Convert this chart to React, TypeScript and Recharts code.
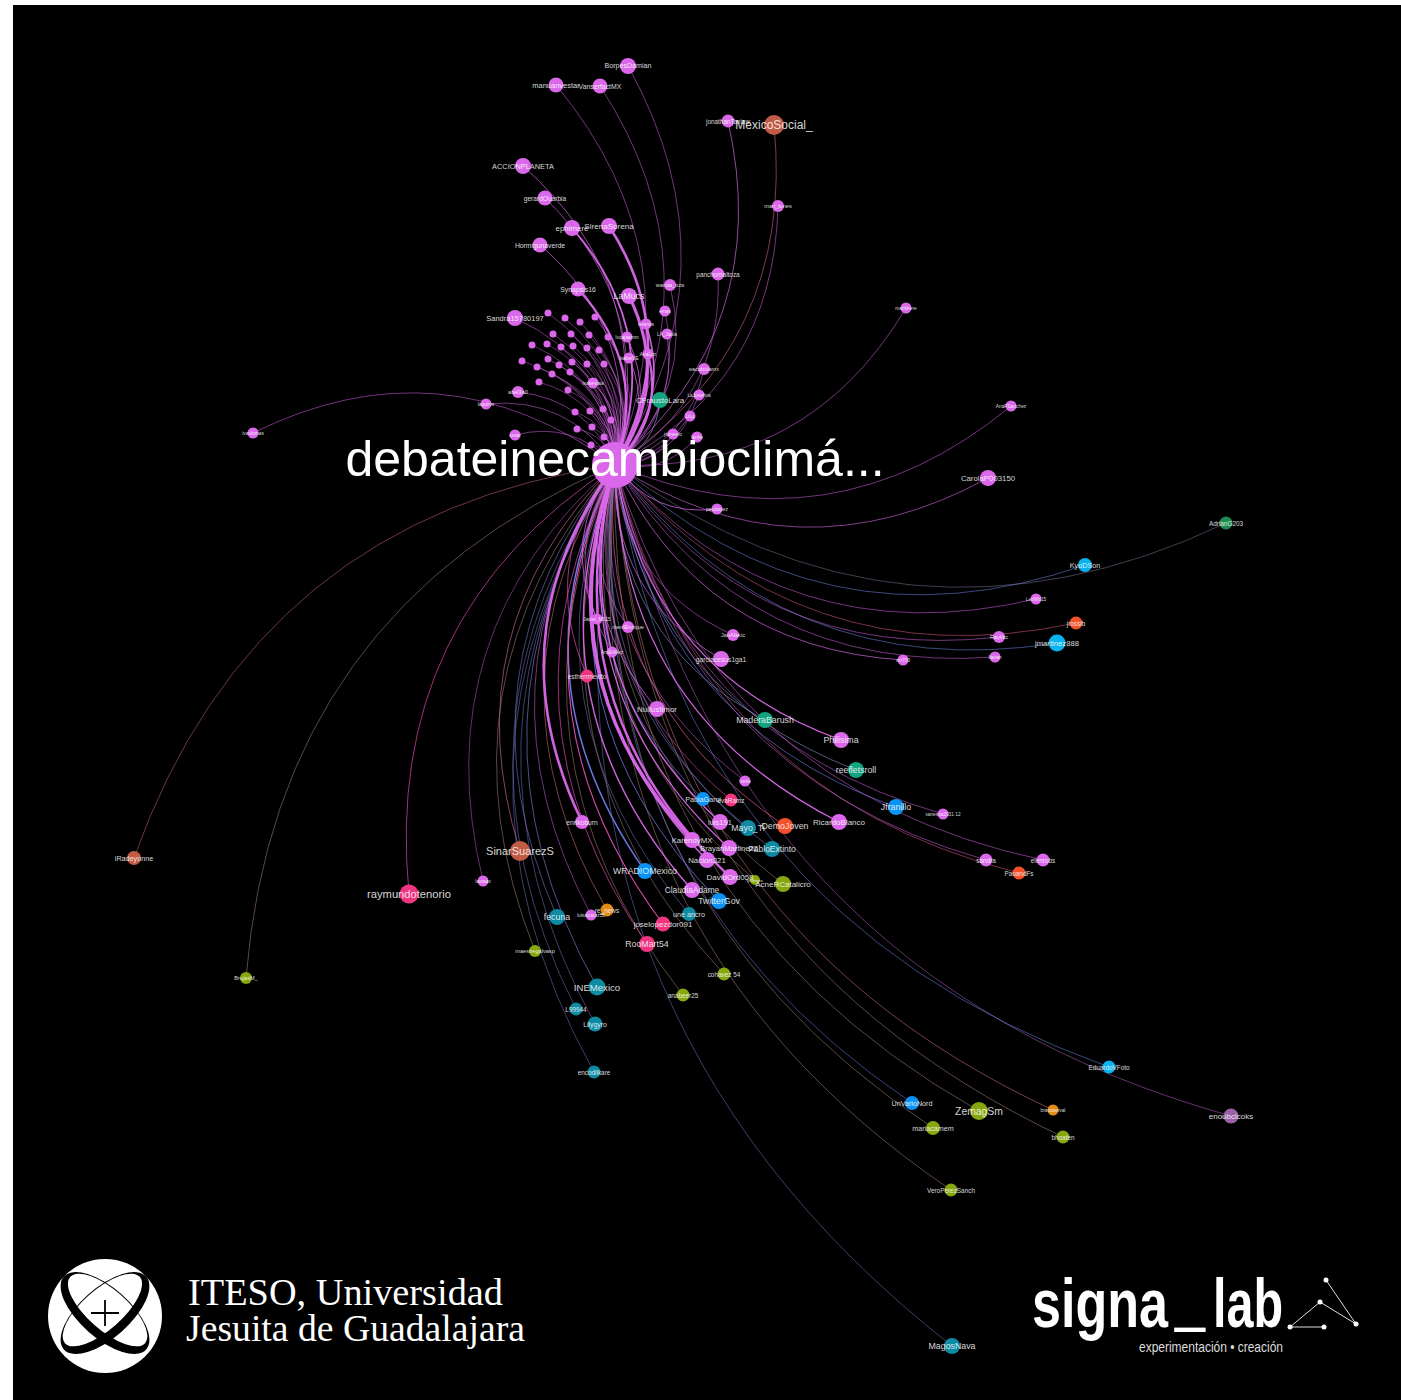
import { ComposedChart, Line, Scatter, XAxis, YAxis } from "recharts";

type Row = [string, number, number, number, number, number, number];

// name, x, y, node radius, edge bend x, edge bend y, edge width
const hub = { name: "debateinecambioclimá...", x: 615, y: 465, size: 23 };

const pinkNodes: Row[] = [
  ["BorpesDamian", 628, 66, 8, 681, 267, 0.7],
  ["manuanvestar", 556, 85, 7.5, 642, 266, 0.7],
  ["VanserfactMX", 600, 86, 7.5, 664, 273, 0.7],
  ["ACCIONPLANETA", 523, 166, 8, 614, 301, 0.9],
  ["gerardOuarbia", 545, 198, 7.5, 620, 321, 0.8],
  ["ephimere", 572, 228, 8, 629, 340, 1.8],
  ["SirenaSorena", 609, 226, 8, 648, 344, 2.6],
  ["Hormigunaverde", 540, 245, 7.5, 610, 344, 0.9],
  ["Synapsis16", 578, 289, 7.5, 623, 372, 2.2],
  ["LaMucs", 629, 296, 8, 647, 382, 3],
  ["Sandra15780197", 515, 318, 8, 587, 376, 0.7],
  ["jonathanTaxiaw", 728, 121, 6.5, 723, 310, 0.9],
  ["mari_lunes", 778, 206, 6, 735, 360, 0.7],
  ["panchomaltoza", 718, 274, 6.5, 695, 385, 0.7],
  ["wanda_tuts", 670, 285, 6, 669, 383, 0.7],
  ["emas", 665, 311, 5.5, 663, 396, 0.7],
  ["terenos", 646, 324, 5.5, 651, 399, 1.6],
  ["LA_Jaula", 667, 334, 5.5, 660, 407, 0.7],
  ["", 548, 313, 3.5, 604, 379, 0.6],
  ["", 565, 318, 3.5, 612, 384, 0.6],
  ["", 580, 322, 3.5, 619, 388, 0.6],
  ["", 595, 317, 3.5, 627, 388, 0.6],
  ["", 553, 334, 3.5, 603, 390, 0.6],
  ["", 571, 334, 3.5, 612, 393, 0.6],
  ["", 589, 335, 3.5, 621, 396, 0.6],
  ["", 608, 337, 3.5, 630, 400, 0.6],
  ["Ixqajaamm", 627, 337, 5.5, 640, 403, 1],
  ["", 532, 345, 3.5, 591, 392, 0.6],
  ["", 547, 344, 3.5, 599, 394, 0.6],
  ["", 561, 347, 3.5, 605, 398, 0.6],
  ["", 573, 346, 3.5, 611, 399, 0.6],
  ["", 587, 348, 3.5, 618, 402, 0.6],
  ["", 599, 350, 3.5, 624, 405, 0.6],
  ["IsabelVE", 629, 358, 5.5, 638, 413, 1],
  ["AnaLuz", 648, 354, 5.5, 648, 414, 2.2],
  ["", 522, 361, 3.5, 584, 399, 0.6],
  ["", 548, 359, 3.5, 597, 402, 0.6],
  ["", 559, 365, 3.5, 602, 407, 0.6],
  ["", 572, 362, 3.5, 609, 407, 0.6],
  ["", 587, 364, 3.5, 616, 410, 0.6],
  ["", 604, 364, 3.5, 624, 413, 0.6],
  ["", 537, 367, 3.5, 591, 405, 0.6],
  ["", 552, 374, 3.5, 597, 410, 0.6],
  ["", 570, 372, 3.5, 606, 412, 0.6],
  ["", 539, 382, 3.5, 590, 412, 0.6],
  ["", 568, 390, 3.5, 603, 420, 0.6],
  ["Isabeviaia", 593, 383, 5.5, 616, 421, 0.8],
  ["abel3a0", 518, 392, 6, 577, 414, 0.7],
  ["laquirvs", 486, 404, 5.5, 559, 415, 0.7],
  ["", 575, 412, 3.5, 603, 432, 0.6],
  ["", 590, 411, 3.5, 610, 434, 0.6],
  ["", 603, 409, 3.5, 617, 435, 0.6],
  ["", 611, 420, 3.5, 620, 442, 0.6],
  ["", 577, 429, 3.5, 601, 441, 0.6],
  ["", 592, 427, 3.5, 609, 442, 0.6],
  ["", 604, 437, 3.5, 613, 449, 0.6],
  ["", 591, 445, 3.5, 606, 451, 0.6],
  ["cesar", 515, 435, 5.5, 569, 435, 0.7],
  ["eacobolamx", 704, 369, 6, 674, 430, 0.7],
  ["LaJosefina", 699, 395, 5.5, 667, 442, 0.7],
  ["LiLu", 690, 416, 5.5, 660, 451, 0.7],
  ["jaimeelo", 673, 434, 5.5, 648, 458, 0.7],
  ["Ianhe", 697, 437, 5.5, 660, 463, 0.7],
  ["pacolopez", 717, 509, 5.5, 659, 502, 1],
  ["marishere", 906, 308, 5.5, 784, 430, 0.7],
  ["AnaPSanchez", 1011, 406, 5.5, 822, 495, 0.7],
  ["CarolaP003150", 988, 478, 8, 799, 527, 0.8],
  ["ivanlomas", 253, 433, 5.5, 438, 394, 0.7],
  ["LeoNhi15", 1036, 599, 5.5, 805, 595, 0.7],
  ["Raylitic", 999, 637, 6, 781, 608, 0.7],
  ["Ilanan", 995, 657, 5.5, 776, 618, 0.7],
  ["sin700", 903, 660, 5.5, 730, 605, 0.9],
  ["JanAlakic", 733, 635, 6, 648, 567, 0.7],
  ["garciacesus1ga1", 721, 659, 8, 639, 578, 0.9],
  ["Javier_M015", 597, 619, 5.5, 583, 539, 1],
  ["memEnrique", 628, 627, 6, 597, 548, 0.8],
  ["AmEnMez", 612, 652, 5.5, 585, 558, 0.8],
  ["Nullustimor", 657, 709, 8, 600, 593, 1],
  ["Philisima", 841, 740, 8, 687, 636, 1.2],
  ["Ivette", 745, 781, 5.5, 632, 642, 0.7],
  ["RicardoBlanco", 839, 822, 8, 673, 677, 1.2],
  ["vanessa2031 12", 943, 814, 5.5, 726, 688, 0.7],
  ["sandra", 986, 860, 6.5, 741, 718, 0.7],
  ["elenrobs", 1043, 860, 6.5, 770, 726, 0.7],
  ["luis191", 720, 822, 8, 614, 659, 1.4],
  ["KarendyMX", 692, 840, 8, 597, 664, 3.4],
  ["BrayanMartinezZ", 729, 848, 8, 614, 673, 1.2],
  ["Nacion321", 707, 860, 8, 601, 676, 1.4],
  ["DavidOrd058", 730, 877, 8, 610, 688, 2.4],
  ["ClaudiaAdame", 692, 890, 8, 589, 689, 1.4],
  ["enrikoburn", 582, 822, 7, 545, 638, 2.6],
  ["lauraax", 483, 881, 5.5, 486, 653, 0.6],
  ["luisalcaraz55", 591, 915, 5.5, 535, 686, 0.7],
];

const hotPinkNodes: Row[] = [
  ["estherrmexito", 587, 676, 6.5, 569, 566, 0.9],
  ["evaRamz", 731, 800, 6.5, 622, 650, 0.8],
  ["raymundotenorio", 409, 894, 9.5, 447, 648, 0.9],
  ["joselopezdor091", 663, 924, 7.5, 570, 701, 1.1],
  ["RooMart54", 647, 944, 8, 559, 709, 0.9],
];

const blueNodes: Row[] = [
  ["PaolaGarci", 703, 799, 7, 609, 645, 0.8],
  ["Jfranillo", 896, 807, 8, 704, 678, 0.8],
  ["WRADIOMexico", 645, 871, 8, 569, 672, 1.5],
  ["TwitterGov", 719, 901, 8, 601, 699, 1],
  ["UnVarioNord", 912, 1103, 7, 668, 829, 0.7],
];

const cyanNodes: Row[] = [
  ["KyoDSon", 1085, 565, 7, 835, 586, 0.7],
  ["jmartinez888", 1057, 643, 8.5, 810, 620, 0.7],
  ["EduardoVFoto", 1109, 1067, 6.5, 772, 840, 0.7],
];

const tealNodes: Row[] = [
  ["Mayo_Ti", 748, 828, 8, 627, 666, 0.8],
  ["PabloExtinto", 772, 849, 8, 636, 680, 0.8],
  ["une ancro", 689, 914, 7, 584, 700, 0.7],
  ["fecuna", 557, 917, 8, 518, 682, 0.8],
  ["INEMexico", 597, 987, 8.5, 527, 723, 0.9],
  ["L99944", 576, 1009, 6.5, 514, 731, 0.7],
  ["Lilygyro", 595, 1024, 7.5, 521, 741, 0.7],
  ["encodilkare", 594, 1072, 6.5, 513, 765, 0.7],
  ["MagosNava", 952, 1346, 8, 651, 956, 0.7],
];

const greenNodes: Row[] = [
  ["CFraustoLara", 660, 400, 8, 647, 439, 1],
  ["MaderaBarush", 765, 720, 8, 651, 615, 0.9],
  ["reefletsroll", 856, 770, 8, 690, 653, 0.9],
];

const forestNodes: Row[] = [["AdrianG203", 1226, 523, 6.5, 912, 585, 0.7]];

const brickNodes: Row[] = [
  ["MexicoSocial_", 774, 125, 10, 745, 319, 0.8],
  ["SinarSuarezS", 520, 851, 10, 509, 644, 0.9],
  ["iRadeyonne", 134, 858, 7, 315, 589, 0.7],
];

const redNodes: Row[] = [
  ["jrossib", 1076, 623, 6.5, 822, 613, 0.7],
  ["DemoJoven", 785, 826, 8, 646, 671, 0.9],
  ["PaoandFs", 1019, 873, 6.5, 756, 730, 0.7],
];

const oliveNodes: Row[] = [
  ["AcneRCatalicro", 783, 884, 8, 636, 699, 0.7],
  ["pedromx", 755, 880, 5, 623, 693, 0.7],
  ["cohavez 54", 724, 974, 6.5, 593, 736, 0.7],
  ["anabeer25", 683, 995, 6.5, 570, 740, 0.7],
  ["maestregalvasp", 535, 951, 6, 502, 696, 0.7],
  ["BrujasM_", 246, 978, 6, 353, 666, 0.7],
  ["ZemagSm", 979, 1111, 9, 700, 843, 0.7],
  ["mariacamem", 933, 1128, 7, 675, 844, 0.7],
  ["bhoaten", 1063, 1137, 6.5, 738, 868, 0.7],
  ["VeroPerezSanch", 951, 1190, 6.5, 674, 878, 0.7],
];

const orangeNodes: Row[] = [
  ["re_news", 607, 910, 6.5, 544, 686, 0.7],
  ["bravoserval", 1053, 1110, 5.5, 737, 853, 0.7],
];

const purpleNodes: Row[] = [["enoubclcoks", 1231, 1116, 7.5, 826, 883, 0.7]];

// rows, node colour, edge colour (node colour mixed with the hub's)
const communities: [Row[], string, string][] = [
  [brickNodes, "#C25B45", "#CE6298"],
  [forestNodes, "#1F8A50", "#7D799D"],
  [purpleNodes, "#9A62A6", "#BA65C8"],
  [orangeNodes, "#E28C18", "#DE7A82"],
  [oliveNodes, "#86A70D", "#B0887C"],
  [redNodes, "#F4502A", "#E75C8A"],
  [greenNodes, "#12A37F", "#7685B5"],
  [cyanNodes, "#0AB2EE", "#728DEC"],
  [tealNodes, "#0E8AA3", "#7479C7"],
  [blueNodes, "#0A93F5", "#727DF0"],
  [hotPinkNodes, "#F0347F", "#E54EB5"],
  [pinkNodes, "#DB68EB", "#DB68EB"],
];

// labels that run smaller than their node size suggests
const labelSizes: Record<string, number> = {
  BorpesDamian: 7.1,
  manuanvestar: 7.5,
  VanserfactMX: 6.9,
  ACCIONPLANETA: 7.4,
  gerardOuarbia: 6.6,
  ephimere: 7.9,
  SirenaSorena: 8.1,
  Hormigunaverde: 6.8,
  Synapsis16: 6.9,
  Sandra15780197: 7.5,
  CFraustoLara: 7.9,
  CarolaP003150: 7.8,
  jmartinez888: 7.7,
  RicardoBlanco: 8,
  Nullustimor: 8,
  garciacesus1ga1: 6.7,
  KarendyMX: 7.8,
  BrayanMartinezZ: 7.6,
  Nacion321: 7.9,
  DavidOrd058: 8,
  ClaudiaAdame: 8.3,
  luis191: 7.5,
  PabloExtinto: 8.5,
  enrikoburn: 6.7,
  SinarSuarezS: 11,
  AcneRCatalicro: 8,
  Lilygyro: 6.9,
};

const toPoint = (row: Row) => ({ name: row[0], x: row[1], y: row[2], size: row[3] });

// quadratic edge that passes through its middle point
const edgeCurve = (ctx: any) => {
  let pts: number[][] = [];
  return {
    areaStart() {},
    areaEnd() {},
    lineStart() {
      pts = [];
    },
    point(x: number, y: number) {
      pts.push([x, y]);
    },
    lineEnd() {
      const [a, m, c] = pts;
      ctx.moveTo(a[0], a[1]);
      ctx.quadraticCurveTo(2 * m[0] - (a[0] + c[0]) / 2, 2 * m[1] - (a[1] + c[1]) / 2, c[0], c[1]);
    },
  };
};

const NodeDot = (props: any) => (
  <circle cx={props.cx} cy={props.cy} r={props.payload.size} fill={props.fill} />
);

const NodeLabel = (props: any) => {
  const { name, size } = props.payload;
  const fontSize = size > 20 ? 50 : labelSizes[name] ?? 1.6 * size - 4;
  return (
    <text
      x={props.cx}
      y={size > 20 ? props.cy - 6 : props.cy}
      textAnchor="middle"
      dominantBaseline="central"
      fontSize={fontSize}
      fontFamily="'Liberation Sans', Arial, sans-serif"
      fill="#fff"
      fillOpacity={size > 20 ? 1 : 0.85}
    >
      {name}
    </text>
  );
};

export default function App() {
  const labelled = [
    ...communities.flatMap(([rows]) => rows.filter((r) => r[0]).map(toPoint)),
    hub,
  ];

  return (
    <div style={{ position: "absolute", left: 0, top: 0, width: 1401, height: 1400, background: "#fff" }}>
      <div style={{ position: "absolute", left: 13, top: 5, width: 1388, height: 1395, background: "#000" }} />
      <div style={{ position: "absolute", left: 0, top: 0 }}>
        <ComposedChart width={1401} height={1400} margin={{ top: 0, right: 0, bottom: 0, left: 0 }}>
          <XAxis dataKey="x" type="number" domain={[0, 1401]} hide />
          <YAxis dataKey="y" type="number" domain={[0, 1400]} reversed hide />
          {communities.flatMap(([rows, color, edgeColor]) =>
            rows.map((row) => (
              <Line
                key={`${color}-${row[1]}-${row[2]}`}
                data={[
                  { x: hub.x, y: hub.y },
                  { x: row[4], y: row[5] },
                  { x: row[1], y: row[2] },
                ]}
                dataKey="y"
                type={edgeCurve as any}
                stroke={edgeColor}
                strokeWidth={row[6]}
                strokeOpacity={row[6] > 1 ? 0.95 : 0.75}
                dot={false}
                activeDot={false}
                isAnimationActive={false}
              />
            ))
          )}
          {communities.map(([rows, color]) => (
            <Scatter
              key={color}
              data={rows.map(toPoint)}
              dataKey="y"
              fill={color}
              shape={NodeDot}
              isAnimationActive={false}
            />
          ))}
          <Scatter data={[hub]} dataKey="y" fill="#DB68EB" shape={NodeDot} isAnimationActive={false} />
          <Scatter data={labelled} dataKey="y" fill="#fff" shape={NodeLabel} isAnimationActive={false} />
        </ComposedChart>
      </div>

      {/* logos */}
      <svg width={1401} height={1400} style={{ position: "absolute", left: 0, top: 0, pointerEvents: "none" }}>
        <circle cx={105} cy={1316} r={57} fill="#fff" />
        {[41.5, -41.5].map((angle) => (
          <path
            key={angle}
            transform={`translate(105 1313) rotate(${angle})`}
            fill="#000"
            fillRule="evenodd"
            d="M-55 0A55 25 0 1 0 55 0A55 25 0 1 0 -55 0ZM-50 -4A50 20 0 1 0 50 -4A50 20 0 1 0 -50 -4Z"
          />
        ))}
        <path d="M105 1300V1326M91 1313H119" stroke="#000" strokeWidth={1.8} fill="none" />
        <g fontFamily="'Liberation Serif', 'Times New Roman', serif" fill="#fff">
          <text x={188} y={1305} fontSize={37} textLength={315} lengthAdjust="spacingAndGlyphs">
            ITESO, Universidad
          </text>
          <text x={186} y={1341} fontSize={37} textLength={339} lengthAdjust="spacingAndGlyphs">
            Jesuita de Guadalajara
          </text>
        </g>
        <g fontFamily="'Liberation Sans', Arial, sans-serif" fill="#fff">
          <text x={1032} y={1327} fontSize={68} fontWeight={700} textLength={136} lengthAdjust="spacingAndGlyphs">
            signa
          </text>
          <text x={1175} y={1318} fontSize={68} textLength={30} lengthAdjust="spacingAndGlyphs">
            _
          </text>
          <text x={1213} y={1327} fontSize={68} fontWeight={700} textLength={70} lengthAdjust="spacingAndGlyphs">
            lab
          </text>
          <text x={1139} y={1352} fontSize={15} fill="#ddd" textLength={144} lengthAdjust="spacingAndGlyphs">
            experimentación • creación
          </text>
        </g>
        <path d="M1326 1280L1356 1324L1320 1302L1290 1327H1324" stroke="#ddd" strokeWidth={1} fill="none" />
        <g fill="#fff">
          <circle cx={1326} cy={1280} r={2.5} />
          <circle cx={1320} cy={1302} r={2.5} />
          <circle cx={1356} cy={1324} r={2.5} />
          <circle cx={1290} cy={1327} r={2.5} />
          <circle cx={1324} cy={1327} r={2.5} />
        </g>
      </svg>
    </div>
  );
}
